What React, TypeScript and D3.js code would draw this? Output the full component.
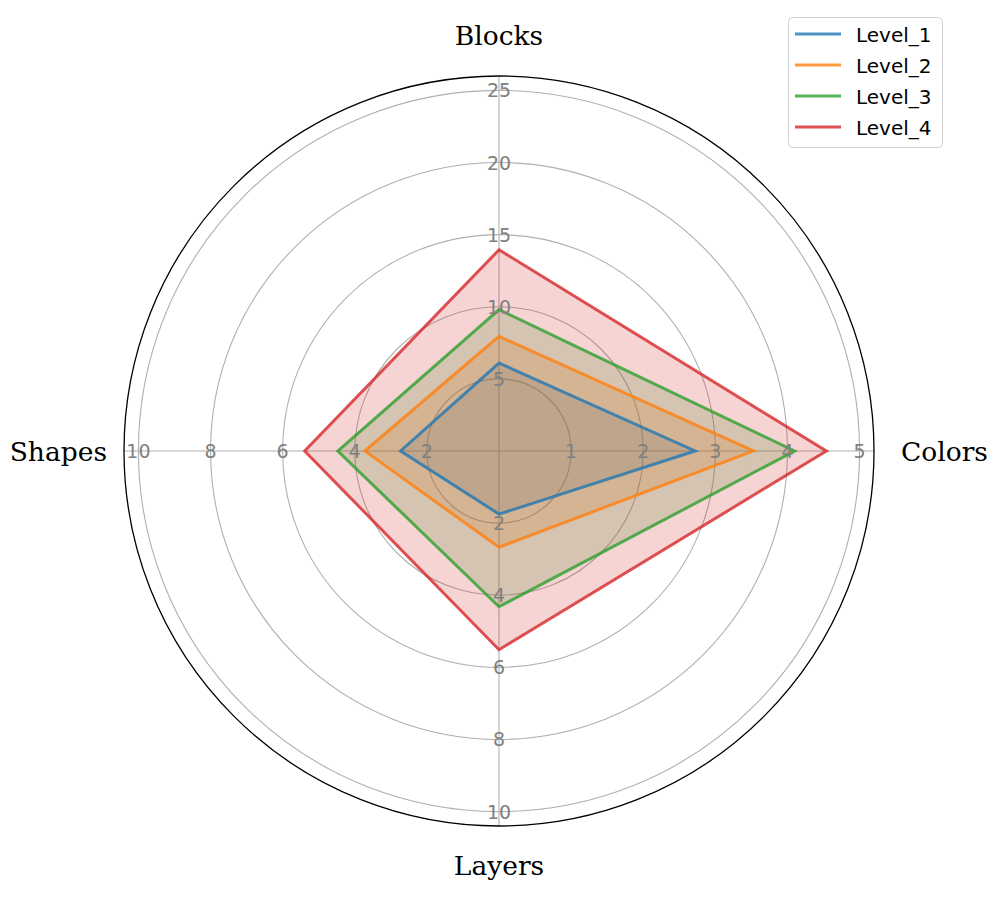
import { useRef, useEffect } from "react";
import * as d3 from "d3";

// axes in clockwise order starting at the top
const categories = ["Blocks", "Colors", "Layers", "Shapes"];
const axisMax = [26, 5.2, 10.4, 10.4];
const axisTicks = [
    [5, 10, 15, 20, 25],
    [1, 2, 3, 4, 5],
    [2, 4, 6, 8, 10],
    [2, 4, 6, 8, 10],
];

const seriesNames = ["Level_1", "Level_2", "Level_3", "Level_4"];
const level1 = [6.1, 2.72, 1.75, 2.73];
const level2 = [7.95, 3.53, 2.67, 3.72];
const level3 = [9.8, 4.1, 4.32, 4.47];
const level4 = [13.95, 4.54, 5.51, 5.39];
const seriesValues = [level1, level2, level3, level4];

const colors = ["#1f77b4", "#ff7f0e", "#2ca02c", "#d62728"];

export default function App() {
    const svgRef = useRef<SVGSVGElement | null>(null);

    useEffect(() => {
        if (!svgRef.current) return;
        const svg = d3.select(svgRef.current);
        svg.selectAll("*").remove();

        const cx = 499;
        const cy = 451;
        const R = 375;
        const ringCount = 5;
        const ringR = R / 5.2;

        const angleOf = (i: number) => (i * 2 * Math.PI) / categories.length;
        const scales = axisMax.map(m => d3.scaleLinear().domain([0, m]).range([0, R]));

        const g = svg.append("g").attr("transform", `translate(${cx},${cy})`);

        // rings
        g.append("g")
            .selectAll("circle")
            .data(d3.range(1, ringCount + 1))
            .enter()
            .append("circle")
            .attr("r", k => k * ringR)
            .attr("fill", "none")
            .attr("stroke", "#b0b0b0")
            .attr("stroke-width", 1.1);

        // spokes
        g.append("g")
            .selectAll("line")
            .data(categories)
            .enter()
            .append("line")
            .attr("x1", 0)
            .attr("y1", 0)
            .attr("x2", (_, i) => R * Math.sin(angleOf(i)))
            .attr("y2", (_, i) => -R * Math.cos(angleOf(i)))
            .attr("stroke", "#b0b0b0")
            .attr("stroke-width", 1.1);

        // series polygons
        const line = d3
            .lineRadial<number>()
            .angle((_, i) => angleOf(i))
            .radius((d, i) => scales[i](d))
            .curve(d3.curveLinearClosed);

        seriesValues.forEach((vals, s) => {
            g.append("path")
                .attr("d", line(vals))
                .attr("fill", colors[s])
                .attr("fill-opacity", 0.2)
                .attr("stroke", "none");
        });
        seriesValues.forEach((vals, s) => {
            g.append("path")
                .attr("d", line(vals))
                .attr("fill", "none")
                .attr("stroke", colors[s])
                .attr("stroke-opacity", 0.8)
                .attr("stroke-width", 3)
                .attr("stroke-linejoin", "miter");
        });

        // outer frame
        g.append("circle")
            .attr("r", R)
            .attr("fill", "none")
            .attr("stroke", "#000")
            .attr("stroke-width", 1.3);

        // tick labels per axis
        categories.forEach((_, i) => {
            const a = angleOf(i);
            g.append("g")
                .selectAll("text")
                .data(axisTicks[i])
                .enter()
                .append("text")
                .attr("x", t => scales[i](t) * Math.sin(a))
                .attr("y", t => -scales[i](t) * Math.cos(a))
                .attr("text-anchor", "middle")
                .attr("dominant-baseline", "central")
                .attr("font-family", "DejaVu Sans")
                .attr("font-size", 19)
                .attr("fill", "#808080")
                .text(t => String(t));
        });

        // category labels
        const labelPos = [
            { x: 0, y: -416, anchor: "middle" },
            { x: 402, y: 0, anchor: "start" },
            { x: 0, y: 414, anchor: "middle" },
            { x: -392, y: 0, anchor: "end" },
        ];
        g.append("g")
            .selectAll("text")
            .data(categories)
            .enter()
            .append("text")
            .attr("x", (_, i) => labelPos[i].x)
            .attr("y", (_, i) => labelPos[i].y)
            .attr("text-anchor", (_, i) => labelPos[i].anchor)
            .attr("dominant-baseline", "central")
            .attr("font-family", "DejaVu Serif")
            .attr("font-size", 26.5)
            .attr("fill", "#000")
            .text(d => d);

        // legend
        const legend = svg.append("g").attr("transform", "translate(788,17)");
        legend
            .append("rect")
            .attr("x", 0.5)
            .attr("y", 0.5)
            .attr("width", 154)
            .attr("height", 130)
            .attr("rx", 4)
            .attr("fill", "#fff")
            .attr("fill-opacity", 0.8)
            .attr("stroke", "#d0d0d0")
            .attr("stroke-width", 1);
        const rows = legend
            .selectAll("g.row")
            .data(seriesNames)
            .enter()
            .append("g")
            .attr("class", "row")
            .attr("transform", (_, i) => `translate(0,${17 + i * 31})`);
        rows.append("line")
            .attr("x1", 7)
            .attr("x2", 53)
            .attr("y1", 0)
            .attr("y2", 0)
            .attr("stroke", (_, i) => colors[i])
            .attr("stroke-opacity", 0.8)
            .attr("stroke-width", 3);
        rows.append("text")
            .attr("x", 68)
            .attr("y", 1)
            .attr("dominant-baseline", "central")
            .attr("font-family", "DejaVu Sans")
            .attr("font-size", 20)
            .attr("fill", "#000")
            .text(d => d);
    }, []);

    return (
        <svg
            ref={svgRef}
            width={997}
            height={908}
            style={{ position: "absolute", left: 0, top: 0, background: "#fff" }}
        />
    );
}
